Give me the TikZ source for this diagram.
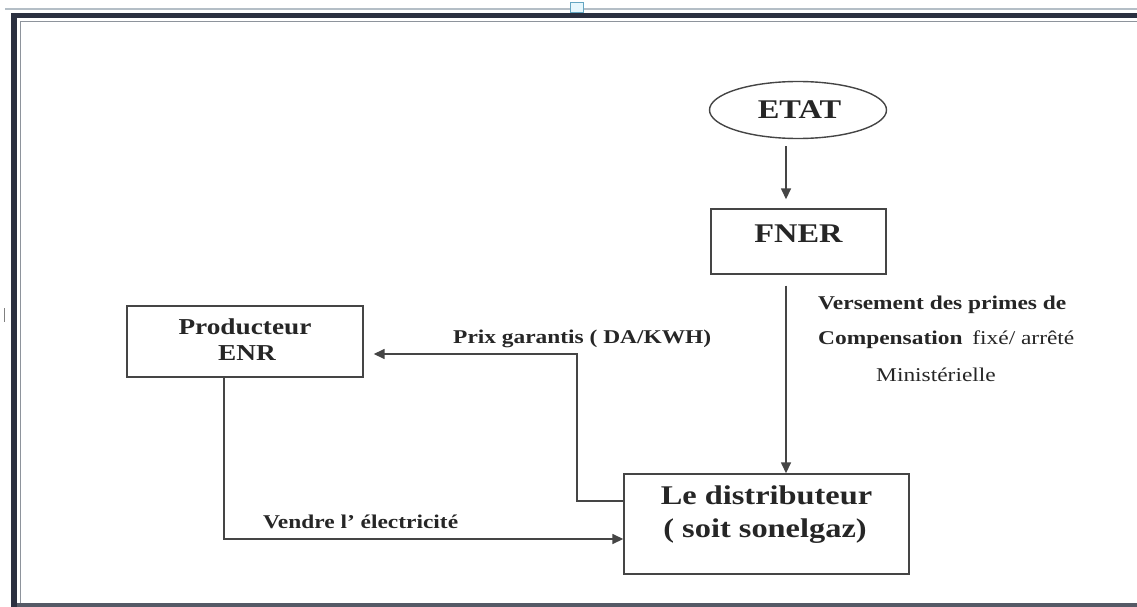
\documentclass[tikz,border=0pt]{standalone}
\usepackage{fontspec}
\setmainfont{Liberation Serif}[FakeStretch=1.2]
\usetikzlibrary{arrows.meta,shapes.geometric}
\definecolor{ink}{HTML}{262626}
\definecolor{linec}{HTML}{454545}
\definecolor{frameD}{HTML}{2B3040}
\definecolor{frameL}{HTML}{8E949C}
\definecolor{frameT}{HTML}{B4BEC6}
\tikzset{
  boxn/.style={draw=linec, line width=1.4pt, rectangle, inner sep=0pt},
  ell/.style={draw=linec, line width=1.4pt, ellipse, inner sep=0pt},
  conn/.style={draw=linec, line width=1.5pt},
  arr/.style={conn, -{Triangle[length=11pt,width=10pt]}},
  bigt/.style={text=ink, font={\bfseries\fontsize{27}{32}\selectfont}, inner sep=0pt, anchor=base},
  midt/.style={text=ink, font={\bfseries\fontsize{22.75}{27}\selectfont}, inner sep=0pt, anchor=base},
  lab/.style={text=ink, font={\fontsize{19.5}{23}\selectfont}, inner sep=0pt}
}
\begin{document}
\begin{tikzpicture}[x=1pt,y=-1pt]
\useasboundingbox (0,0) rectangle (1137,607);
\fill[white] (0,0) rectangle (1137,607);
% frame
\fill[frameT] (5,8.3) rectangle (1137,9.8);
\fill[frameD] (10.5,13) rectangle (1137,18.5);
\fill[frameD] (10.5,13) rectangle (17,607);
\draw[frameL, line width=1.2pt] (20.5,607) -- (20.5,21.5) -- (1137,21.5);
\fill[frameD!80] (17,603) rectangle (1137,607);
\filldraw[fill=cyan!10, draw=cyan!50!gray, line width=0.8pt] (570,2) rectangle (583,12);
\draw[gray, line width=1.5pt] (4.5,308) -- (4.5,322);
% nodes
\node[ell, minimum width=177pt, minimum height=57pt] (etat) at (798,110) {};
\node[bigt] (etatt) at (799.5,118) {ETAT};
\node[boxn, minimum width=175pt, minimum height=65pt] (fner) at (798.5,241.5) {};
\node[bigt] (fnert) at (798.5,242) {FNER};
\node[boxn, minimum width=236pt, minimum height=71pt] (prod) at (245,341.5) {};
\node[midt] (prodA) at (245,334) {Producteur};
\node[midt] (prodB) at (247,360) {ENR};
\node[boxn, minimum width=285pt, minimum height=100pt] (dist) at (766.5,524) {};
\node[bigt] (distA) at (766.5,504) {Le distributeur};
\node[bigt] (distB) at (765,537) {( soit sonelgaz)};
% labels
\node[lab, anchor=base west] (v1) at (818,309) {\bfseries Versement des primes de};
\node[lab, anchor=base west] (v2) at (818,344) {\bfseries Compensation\hspace{4pt} \mdseries fixé/ arrêté};
\node[lab, anchor=base] (v3) at (936,381) {Ministérielle};
\node[lab, anchor=base west] (prix) at (453,343) {\bfseries Prix garantis ( DA/KWH)};
\node[lab, anchor=base west] (vend) at (263,528) {\bfseries Vendre l’ électricité};
% connectors
\draw[arr, shorten >=9pt] ([xshift=-12pt,yshift=-7pt]etat.south) -- ([xshift=-12.5pt]fner.north);
\draw[arr] ([xshift=-12.5pt,yshift=-11pt]fner.south) -- ([xshift=19.5pt]dist.north);
\coordinate (pc) at (577,354);
\draw[arr, shorten >=10pt] ([yshift=23pt]dist.west) -| (pc) -- ([yshift=-12.5pt]prod.east);
\draw[arr] ([xshift=-21pt]prod.south) |- ([yshift=-15pt]dist.west);
\end{tikzpicture}
\end{document}
